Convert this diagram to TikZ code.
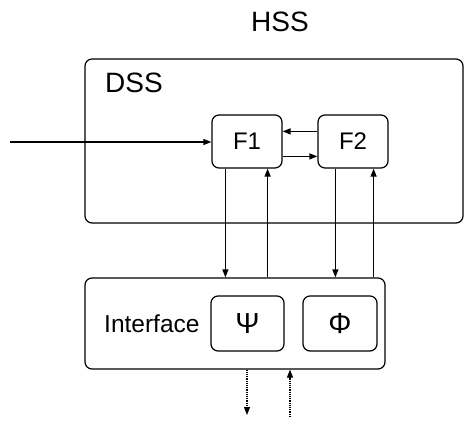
\documentclass[tikz,border=0pt]{standalone}
\usepackage{fontspec}
\setmainfont{Liberation Sans}
\usetikzlibrary{arrows.meta,calc}
\begin{document}
\begin{tikzpicture}[x=1pt,y=-1pt,
  lw/.style={line width=1.2pt},
  rbox/.style={draw,lw,rounded corners=7pt,inner sep=0pt},
  arr/.style={lw,-{Triangle[length=8pt,width=6pt]}},
  darr/.style={lw,densely dotted,-{Triangle[length=8pt,width=6pt]}},
  big/.style={font=\fontsize{28}{32}\selectfont,inner sep=0pt},
  mid/.style={font=\fontsize{24}{28}\selectfont,inner sep=0pt}]
\useasboundingbox (0,0) rectangle (465,422);
% outer labels
\node[big,anchor=base] (hss) at (280,32) {HSS};
% DSS box
\node[rbox,minimum width=378pt,minimum height=164pt] (dss) at (274,141) {};
\node[big,anchor=base west] (dsst) at (105,93) {DSS};
% F boxes
\node[rbox,minimum width=70pt,minimum height=53pt,mid] (F1) at (247,141.5) {F1};
\node[rbox,minimum width=70pt,minimum height=53pt,mid] (F2) at (353,141.5) {F2};
% Interface
\node[rbox,minimum width=300pt,minimum height=91pt] (iface) at (235,323.5) {};
\node[mid,anchor=west,font=\fontsize{24.5}{28}\selectfont] (ifacet) at (104,324) {Interface};
\node[rbox,minimum width=73pt,minimum height=55pt,font=\fontsize{29}{32}\selectfont] (psi) at (247.5,323.5) {Ψ};
\node[rbox,minimum width=74pt,minimum height=55pt,font=\fontsize{29}{32}\selectfont] (phi) at (340,323.5) {Φ};
% connectors
\coordinate (in) at (10,142);
\draw[arr] (in) -- (in -| F1.west);
\draw[arr] ($(F2.north west)+(0,17)$) coordinate (b1) -- (b1 -| F1.east);
\draw[arr] ($(F1.north east)+(0,42)$) coordinate (b2) -- (b2 -| F2.west);
\draw[arr] ($(F1.south west)+(14,0)$) coordinate (v1) -- (v1 |- iface.north);
\draw[arr] ($(iface.north -| F1.south east)+(-15,0)$) coordinate (v2) -- (v2 |- F1.south);
\draw[arr] ($(F2.south west)+(18,0)$) coordinate (v3) -- (v3 |- iface.north);
\draw[arr] ($(iface.north -| F2.south east)+(-15,0)$) coordinate (v4) -- (v4 |- F2.south);
\coordinate (dout) at (247,415);
\coordinate (din) at (290,417);
\draw[darr] (dout |- iface.south) -- (dout);
\draw[darr] (din) -- (din |- iface.south);
\end{tikzpicture}
\end{document}
